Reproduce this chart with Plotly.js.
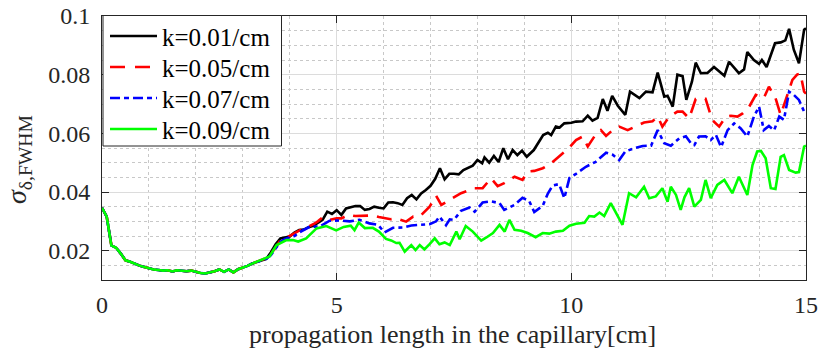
<!DOCTYPE html>
<html>
<head>
<meta charset="utf-8">
<script src="https://cdn.plot.ly/plotly-3.0.1.min.js"></script>
<style>html,body{margin:0;padding:0;background:#fff;}#chart{width:818px;height:357px;}</style>
</head>
<body>
<div id="chart"></div>
<script>
// Shared start (all four curves coincide up to ~3.4 cm)
const xCommon = [0,0.1,0.2,0.3,0.4,0.5,0.6,0.7,0.8,0.9,1.0,1.1,1.2,1.3,1.4,1.5,1.6,1.7,1.8,1.9,2.0,2.1,2.2,2.3,2.4,2.5,2.6,2.7,2.8,2.9,3.0,3.1,3.2,3.3,3.4];
const yCommon = [0.0346,0.0316,0.0218,0.0210,0.0190,0.0167,0.0162,0.0155,0.0149,0.0144,0.0139,0.0136,0.0134,0.0132,0.0133,0.0129,0.0133,0.0132,0.0130,0.0132,0.0127,0.0124,0.0122,0.0125,0.0130,0.0136,0.0128,0.0136,0.0126,0.0137,0.0142,0.0148,0.0156,0.0162,0.0168];

// k = 0.01/cm
const x1 = [3.5,3.6,3.7,3.8,3.9,4.0,4.1,4.2,4.3,4.4,4.5,4.6,4.7,4.8,4.9,5.0,5.1,5.2,5.3,5.4,5.5,5.6,5.7,5.8,5.9,6.0,6.1,6.2,6.3,6.4,6.5,6.6,6.7,6.8,6.9,7.0,7.1,7.2,7.3,7.4,7.5,7.6,7.7,7.8,7.9,8.0,8.1,8.15,8.25,8.35,8.45,8.55,8.65,8.75,8.85,8.95,9.05,9.2,9.3,9.4,9.5,9.57,9.67,9.75,9.85,10.0,10.1,10.24,10.35,10.45,10.56,10.67,10.77,10.87,10.99,11.15,11.25,11.45,11.59,11.73,11.84,11.98,12.05,12.16,12.26,12.37,12.45,12.57,12.65,12.76,12.9,13.04,13.26,13.36,13.57,13.68,13.75,13.89,14.0,14.06,14.16,14.34,14.46,14.56,14.64,14.74,14.85,14.96,15.0];
const y1 = [0.0172,0.0195,0.0222,0.0242,0.0245,0.0248,0.0262,0.0270,0.0272,0.0280,0.0285,0.0295,0.0305,0.0333,0.0325,0.0338,0.0322,0.0344,0.0349,0.0352,0.0352,0.0339,0.0342,0.0350,0.0346,0.0344,0.0364,0.0365,0.0362,0.0356,0.0379,0.0390,0.0375,0.0395,0.0407,0.0421,0.0445,0.0481,0.0443,0.0462,0.0462,0.0460,0.0475,0.0483,0.0490,0.0509,0.0498,0.0518,0.0500,0.0523,0.0502,0.0549,0.0512,0.0543,0.0526,0.0541,0.0520,0.0543,0.0568,0.0594,0.0602,0.0594,0.0623,0.0620,0.0634,0.0636,0.0640,0.0641,0.0660,0.0643,0.0653,0.0717,0.0677,0.0728,0.0694,0.0663,0.0742,0.0720,0.0742,0.0740,0.0807,0.0725,0.0728,0.0691,0.0800,0.0795,0.0714,0.0776,0.0841,0.0805,0.0806,0.0826,0.0796,0.0844,0.0805,0.0818,0.0877,0.0850,0.0837,0.0850,0.0826,0.0907,0.0910,0.0917,0.0956,0.0885,0.0839,0.0953,0.0958];

// k = 0.05/cm
const x2 = [3.5,3.6,3.7,3.8,3.9,4.0,4.1,4.2,4.3,4.4,4.5,4.6,4.7,4.85,5.0,5.1,5.25,5.4,5.6,5.77,5.9,6.02,6.15,6.27,6.48,6.63,6.77,6.98,7.12,7.23,7.33,7.48,7.65,7.94,8.11,8.29,8.43,8.57,8.79,8.96,9.07,9.21,9.39,9.55,9.74,9.96,10.1,10.24,10.35,10.49,10.63,10.74,10.88,11.02,11.2,11.38,11.55,11.73,11.84,11.94,12.08,12.26,12.37,12.51,12.65,12.86,13.0,13.15,13.29,13.4,13.54,13.65,13.79,13.93,14.1,14.21,14.35,14.46,14.6,14.71,14.81,14.88,14.96,15.0];
const y2 = [0.0175,0.0190,0.0210,0.0235,0.0245,0.0250,0.0260,0.0268,0.0275,0.0282,0.0290,0.0300,0.0314,0.0305,0.0310,0.0310,0.0322,0.0318,0.0318,0.0320,0.0315,0.0310,0.0307,0.0310,0.0299,0.0316,0.0316,0.0350,0.0387,0.0356,0.0365,0.0379,0.0396,0.0413,0.0413,0.0447,0.0420,0.0430,0.0452,0.0441,0.0470,0.0472,0.0481,0.0495,0.0520,0.0552,0.0577,0.0589,0.0555,0.0589,0.0611,0.0591,0.0611,0.0623,0.0611,0.0624,0.0637,0.0641,0.0657,0.0623,0.0655,0.0674,0.0674,0.0651,0.0717,0.0718,0.0646,0.0623,0.0657,0.0660,0.0657,0.0668,0.0691,0.0731,0.0720,0.0759,0.0720,0.0663,0.0731,0.0782,0.0800,0.0805,0.0742,0.0735];

// k = 0.07/cm
const x3 = [3.5,3.6,3.7,3.8,3.9,4.0,4.1,4.2,4.3,4.43,4.64,4.85,5.06,5.28,5.49,5.7,5.88,6.02,6.2,6.41,6.59,6.8,6.98,7.12,7.19,7.33,7.41,7.5,7.65,7.83,7.94,8.11,8.29,8.47,8.57,8.79,8.96,9.1,9.21,9.39,9.5,9.6,9.74,9.85,9.96,10.1,10.31,10.52,10.74,10.88,11.02,11.15,11.3,11.52,11.7,11.84,11.98,12.12,12.3,12.44,12.55,12.62,12.72,12.86,12.97,13.08,13.19,13.33,13.47,13.61,13.75,13.89,14.0,14.1,14.21,14.32,14.43,14.53,14.64,14.74,14.85,14.96,15.0];
const y3 = [0.0172,0.0185,0.0208,0.0230,0.0240,0.0245,0.0250,0.0262,0.0270,0.0282,0.0282,0.0302,0.0303,0.0300,0.0305,0.0293,0.0288,0.0262,0.0278,0.0279,0.0286,0.0288,0.0290,0.0300,0.0316,0.0287,0.0307,0.0305,0.0336,0.0347,0.0333,0.0364,0.0368,0.0362,0.0339,0.0356,0.0380,0.0370,0.0332,0.0353,0.0395,0.0422,0.0427,0.0379,0.0448,0.0462,0.0486,0.0503,0.0534,0.0527,0.0509,0.0538,0.0547,0.0557,0.0558,0.0611,0.0566,0.0558,0.0583,0.0590,0.0566,0.0560,0.0589,0.0590,0.0577,0.0595,0.0553,0.0611,0.0634,0.0617,0.0589,0.0657,0.0691,0.0611,0.0625,0.0610,0.0657,0.0646,0.0742,0.0731,0.0714,0.0674,0.0670];

// k = 0.09/cm
const x4 = [3.5,3.57,3.72,3.93,4.07,4.18,4.35,4.57,4.78,4.99,5.15,5.3,5.38,5.47,5.6,5.77,5.9,6.05,6.16,6.27,6.34,6.45,6.59,6.68,6.77,6.87,6.98,7.09,7.19,7.3,7.41,7.55,7.62,7.75,7.9,8.08,8.19,8.33,8.47,8.58,8.68,8.79,8.93,9.07,9.24,9.39,9.53,9.67,9.82,9.96,10.1,10.28,10.38,10.49,10.6,10.7,10.84,10.95,11.09,11.23,11.38,11.55,11.66,11.8,11.94,12.05,12.12,12.23,12.33,12.41,12.51,12.62,12.76,12.86,12.97,13.11,13.26,13.43,13.57,13.75,13.86,13.96,14.04,14.14,14.25,14.35,14.46,14.53,14.64,14.78,14.85,14.96,15.0];
const y4 = [0.0175,0.0180,0.0219,0.0236,0.0236,0.0231,0.0242,0.0276,0.0284,0.0269,0.0281,0.0285,0.0270,0.0296,0.0277,0.0278,0.0265,0.0240,0.0235,0.0226,0.0227,0.0197,0.0219,0.0202,0.0219,0.0204,0.0222,0.0242,0.0222,0.0228,0.0219,0.0265,0.0239,0.0284,0.0265,0.0234,0.0245,0.0260,0.0288,0.0265,0.0305,0.0271,0.0268,0.0260,0.0246,0.0260,0.0258,0.0265,0.0268,0.0285,0.0292,0.0295,0.0318,0.0316,0.0330,0.0318,0.0362,0.0327,0.0288,0.0396,0.0382,0.0418,0.0379,0.0385,0.0413,0.0367,0.0418,0.0390,0.0339,0.0382,0.0413,0.0350,0.0373,0.0441,0.0379,0.0424,0.0441,0.0396,0.0452,0.0390,0.0492,0.0538,0.0540,0.0515,0.0413,0.0410,0.0520,0.0526,0.0475,0.0466,0.0468,0.0555,0.0558];

const names = ['k=0.01/cm','k=0.05/cm','k=0.07/cm','k=0.09/cm'];
const colors = ['#000000','#ff0000','#0000ff','#00ff00'];
const dashes = ['solid','15px,9px','11px,4px,4px,4px','solid'];
const legendDashes = ['solid','15px,10px','10px,4px,5px,4px','solid'];
const xs = [x1,x2,x3,x4];
const ys = [y1,y2,y3,y4];

const traces = xs.map((xv,i) => ({
  type:'scatter', mode:'lines', name:names[i], showlegend:false,
  x: xCommon.concat(xv), y: yCommon.concat(ys[i]),
  line:{color:colors[i], width:2.6, dash:dashes[i]}
}));

const serif = '"Liberation Serif", "Times New Roman", serif';

// Legend box drawn in paper units (plot area: 704 x 264 px)
const W = 704, H = 264;
const px = v => (v - 102) / W;      // page x -> paper x
const py = v => (280 - v) / H;      // page y -> paper y
const rowY = [36, 67, 98, 129];
const shapes = [{type:'rect', xref:'paper', yref:'paper', layer:'above',
  x0:px(103), x1:px(281.5), y0:py(146), y1:py(15.5),
  fillcolor:'#ffffff', line:{color:'#262626', width:1}}];
const annotations = [];
names.forEach((n,i) => {
  shapes.push({type:'line', xref:'paper', yref:'paper', layer:'above',
    x0:px(110), x1:px(157), y0:py(rowY[i]), y1:py(rowY[i]),
    line:{color:colors[i], width:2.6, dash:legendDashes[i]}});
  annotations.push({xref:'paper', yref:'paper', x:px(160), y:py(rowY[i]+1),
    xanchor:'left', yanchor:'middle', showarrow:false, text:n,
    font:{family:serif, size:25, color:'#000'}});
});
// axis titles
annotations.push({xref:'paper', yref:'paper', x:px(452.5), y:py(334), xanchor:'center', yanchor:'middle',
  showarrow:false, text:'propagation length in the capillary[cm]', font:{family:serif, size:26, color:'#262626'}});
annotations.push({xref:'paper', yref:'paper', x:px(18), y:py(160), xanchor:'center', yanchor:'middle',
  textangle:-90, showarrow:false, text:'<i>σ</i><sub>δ,FWHM</sub>', font:{family:serif, size:28, color:'#262626'}});

const layout = {
  width:818, height:357,
  margin:{l:102, r:12, t:16, b:77},
  paper_bgcolor:'#fff', plot_bgcolor:'#fff',
  font:{family:serif, color:'#262626', size:24},
  showlegend:false,
  shapes: shapes,
  annotations: annotations,
  xaxis:{range:[0,15], dtick:5, tick0:0, ticks:'inside', ticklen:7, tickcolor:'#262626',
    showline:true, linecolor:'#262626', linewidth:1, mirror:'ticks',
    showgrid:true, gridcolor:'#dcdcdc', gridwidth:1, zeroline:false,
    minor:{dtick:1, showgrid:true, gridcolor:'#c8c8c8', griddash:'dot', gridwidth:1},
    tickfont:{size:24}, ticklabelstandoff:3},
  yaxis:{range:[0.01,0.1], dtick:0.02, tick0:0, ticks:'inside', ticklen:7, tickcolor:'#262626',
    showline:true, linecolor:'#262626', linewidth:1, mirror:'ticks',
    showgrid:true, gridcolor:'#dcdcdc', gridwidth:1, zeroline:false,
    minor:{dtick:0.005, showgrid:true, gridcolor:'#c8c8c8', griddash:'dot', gridwidth:1},
    tickfont:{size:24}, ticklabelstandoff:6}
};
Plotly.newPlot('chart', traces, layout, {staticPlot:true, displayModeBar:false});
</script>
</body>
</html>
